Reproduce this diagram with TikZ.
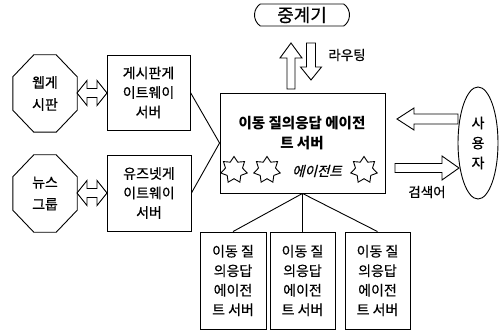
\documentclass[tikz,border=0pt]{standalone}
\usepackage{fontspec}
\setmainfont{Noto Sans CJK KR}[FakeBold=0.6]
\newfontfamily\slantfont{Noto Sans CJK KR}[FakeSlant=0.25,FakeBold=0.6]
\newfontfamily\heavyfont{Noto Sans CJK KR}
\usetikzlibrary{shapes.geometric,shapes.misc}
\tikzset{
  ln/.style={line width=0.9pt},
  box/.style={ln, draw, rectangle, inner sep=0pt, align=center, font=\fontsize{14}{19.5}\selectfont},
  octo/.style={rectangle, inner sep=0pt, align=center, minimum width=64pt, minimum height=77pt, font=\fontsize{14}{22}\selectfont},
  lbl/.style={inner sep=0pt, font=\fontsize{13.5}{15}\selectfont},
  agstar/.style={ln, draw, star, star points=7, star point ratio=1.55, minimum size=27pt, inner sep=0pt},
  harr/.style={ln, draw, fill=white, line join=miter},
}
% single hollow arrow: x y rotation length shafthalf headhalf headlen
\newcommand\hollowarrow[7]{%
  \begin{scope}[shift={(#1,#2)},rotate=#3]
    \draw[harr] (0,-#5) -- ({#4-#7},-#5) -- ({#4-#7},-#6) -- (#4,0) -- ({#4-#7},#6) -- ({#4-#7},#5) -- (0,#5) -- cycle;
  \end{scope}}
% double hollow arrow: x y length shafthalf headhalf headlen
\newcommand\hollowdarrow[6]{%
  \begin{scope}[shift={(#1,#2)}]
    \draw[harr] (0,0) -- (#6,-#5) -- (#6,-#4) -- ({#3-#6},-#4) -- ({#3-#6},-#5) -- (#3,0) -- ({#3-#6},#5) -- ({#3-#6},#4) -- (#6,#4) -- (#6,#5) -- cycle;
  \end{scope}}
\newcommand\octoframe[1]{%
  \draw[ln] ([xshift=21pt]#1.north west) -- ([xshift=-21pt]#1.north east) -- ([yshift=-22pt]#1.north east) -- ([yshift=22pt]#1.south east) -- ([xshift=-21pt]#1.south east) -- ([xshift=21pt]#1.south west) -- ([yshift=22pt]#1.south west) -- ([yshift=-22pt]#1.north west) -- cycle;}
\begin{document}
\begin{tikzpicture}[x=1pt,y=-1pt]
\useasboundingbox (0,0) rectangle (500,331);

% relay
\node[ln, draw, rounded rectangle, rounded rectangle arc length=110, minimum width=95pt, minimum height=22pt, inner sep=0pt, font=\fontsize{18}{20}\selectfont] (relay) at (302,15) {중계기};

% routing arrows
\hollowarrow{291}{89}{90}{46}{4}{11}{15}
\hollowarrow{311}{43}{-90}{37}{4.5}{10.5}{13}
\node[lbl] (routing) at (347,55) {라우팅};

% octagons
\node[octo] (web) at (45,93.5) {웹게\\시판};
\octoframe{web}
\node[octo] (news) at (45,193.5) {뉴스\\그룹};
\octoframe{news}

% gateway boxes
\node[box, minimum width=83pt, minimum height=75pt] (gw1) at (148.5,92.5) {게시판게\\이트웨이\\서버};
\node[box, minimum width=84pt, minimum height=76pt] (gw2) at (149,193) {유즈넷게\\이트웨이\\서버};

\hollowdarrow{77}{93}{30}{4.5}{12.5}{10}
\hollowdarrow{77}{193}{30}{4.5}{12.5}{10}

% main box
\node[box, minimum width=165pt, minimum height=100pt] (main) at (302.5,143) {};
\node[inner sep=0pt, align=center, font=\fontsize{14.5}{20}\selectfont\heavyfont\bfseries] (title) at (302,133) {이동 질의응답 에이전\\트 서버};
\node[agstar] (s1) at (234,170) {};
\node[agstar] (s2) at (267,170) {};
\node[agstar] (s3) at (364,170) {};
\node[inner sep=0pt, font=\fontsize{13.5}{15}\selectfont\slantfont] (agent) at (317,171) {에이전트};

% user
\node[ln, draw, ellipse, minimum width=40pt, minimum height=112pt, inner sep=0pt, align=center, font=\fontsize{14}{20}\selectfont] (user) at (478,143) {사\\용\\자};
\hollowarrow{458}{119}{180}{61}{5}{11}{17}
\hollowarrow{395}{168}{0}{64}{4.5}{12}{17}
\node[lbl] (query) at (427,192) {검색어};

% connectors to main
\draw[ln] (gw1.east) -- (main.west);
\draw[ln] (gw2.east) -- (main.west);

% bottom boxes
\node[box, minimum width=66pt, minimum height=97pt] (b1) at (233,280.5) {이동 질\\의응답\\에이전\\트 서버};
\node[box, minimum width=65pt, minimum height=97pt] (b2) at (302.5,280.5) {이동 질\\의응답\\에이전\\트 서버};
\node[box, minimum width=65pt, minimum height=97pt] (b3) at (377.5,280.5) {이동 질\\의응답\\에이전\\트 서버};
\draw[ln] (main.south) -- (b1.north);
\draw[ln] (main.south) -- (b2.north);
\draw[ln] (main.south) -- (b3.north);
\end{tikzpicture}
\end{document}
